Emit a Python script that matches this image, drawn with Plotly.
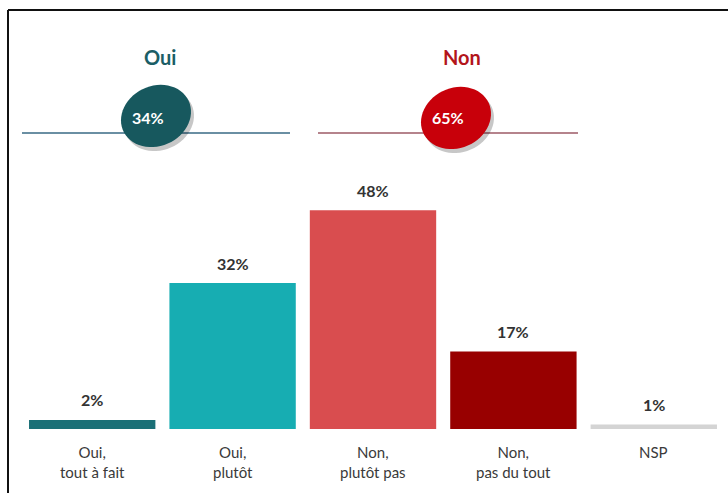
import numpy as np
import plotly.graph_objects as go

categories = ["Oui,<br>tout à fait", "Oui,<br>plutôt", "Non,<br>plutôt pas", "Non,<br>pas du tout", "NSP"]
values = [2, 32, 48, 17, 1]
value_labels = ["2%", "32%", "48%", "17%", "1%"]
bar_colors = ["#1b7077", "#17adb2", "#d94d4f", "#980000", "#d4d4d4"]
group_titles = ["Oui", "Non"]
group_totals = ["34%", "65%"]

W, H = 728, 493
FONT = "Lato, 'Open Sans', sans-serif"

def px(x):
    return x / W

def py(y):
    return 1 - y / H

xs = list(range(len(categories)))

fig = go.Figure()
fig.add_trace(go.Bar(
    x=xs, y=values, marker=dict(color=bar_colors, line=dict(width=0)),
    width=0.9, hoverinfo="skip", showlegend=False,
))

annotations = []
for i, (v, lab) in enumerate(zip(values, value_labels)):
    annotations.append(dict(x=i, y=v, xref="x", yref="y", text=f"<b>{lab}</b>",
                            showarrow=False, xanchor="center", yanchor="middle", yshift=20,
                            font=dict(family=FONT, size=16, color="#333333")))
for i, c in enumerate(categories):
    annotations.append(dict(x=i, y=py(441), xref="x", yref="paper", text=c,
                            showarrow=False, xanchor="center", yanchor="top",
                            font=dict(family=FONT, size=15, color="#3a3a3a")))

shapes = []
# frame
shapes.append(dict(type="line", xref="paper", yref="paper", x0=px(8), x1=px(8), y0=py(10), y1=0,
                   line=dict(color="#111111", width=2)))
shapes.append(dict(type="line", xref="paper", yref="paper", x0=px(8), x1=1, y0=py(10), y1=py(10),
                   line=dict(color="#111111", width=2)))

# group lines
shapes.append(dict(type="line", xref="paper", yref="paper", x0=px(22), x1=px(290), y0=py(133), y1=py(133),
                   line=dict(color="#6a8fa3", width=2)))
shapes.append(dict(type="line", xref="paper", yref="paper", x0=px(318), x1=px(578), y0=py(133), y1=py(133),
                   line=dict(color="#b5838c", width=2)))

def ellipse_path(cx, cy, a, b, ang_deg):
    t = np.linspace(0, 2 * np.pi, 60)
    ang = np.deg2rad(ang_deg)
    xx = cx + a * np.cos(t) * np.cos(ang) - b * np.sin(t) * np.sin(ang)
    yy = cy + a * np.cos(t) * np.sin(ang) + b * np.sin(t) * np.cos(ang)
    pts = [f"{px(x):.5f},{py(y):.5f}" for x, y in zip(xx, yy)]
    return "M " + " L ".join(pts) + " Z"

for (cx, cy, col) in [(156, 116, "#17585e"), (456, 118, "#c8000a")]:
    shapes.append(dict(type="path", xref="paper", yref="paper",
                       path=ellipse_path(cx + 3, cy + 4, 36, 30, -25),
                       fillcolor="rgba(0,0,0,0.22)", line=dict(width=0)))
    shapes.append(dict(type="path", xref="paper", yref="paper",
                       path=ellipse_path(cx, cy, 36, 30, -25),
                       fillcolor=col, line=dict(width=0)))

title_cols = ["#1b5e66", "#b3151b"]
for (tx, t, col) in zip([160, 462], group_titles, title_cols):
    annotations.append(dict(x=px(tx), y=py(57), xref="paper", yref="paper", text=f"<b>{t}</b>",
                            showarrow=False, xanchor="center", yanchor="middle",
                            font=dict(family=FONT, size=20, color=col)))
for (tx, t) in zip([148, 448], group_totals):
    annotations.append(dict(x=px(tx), y=py(118), xref="paper", yref="paper", text=f"<b>{t}</b>",
                            showarrow=False, xanchor="center", yanchor="middle",
                            font=dict(family=FONT, size=16, color="white")))

fig.update_layout(
    width=W, height=H, margin=dict(l=0, r=0, t=0, b=0),
    paper_bgcolor="white", plot_bgcolor="white",
    xaxis=dict(domain=[px(22), px(724)], range=[-0.5, 4.5], visible=False, fixedrange=True),
    yaxis=dict(domain=[1 - 429 / H, 1 - 160 / H], range=[0, 59], visible=False, fixedrange=True),
    shapes=shapes, annotations=annotations, bargap=0.1,
)

fig.write_html("out.html", config={"displayModeBar": False},
               post_script="document.body.style.margin='0';document.body.style.overflow='hidden';")
